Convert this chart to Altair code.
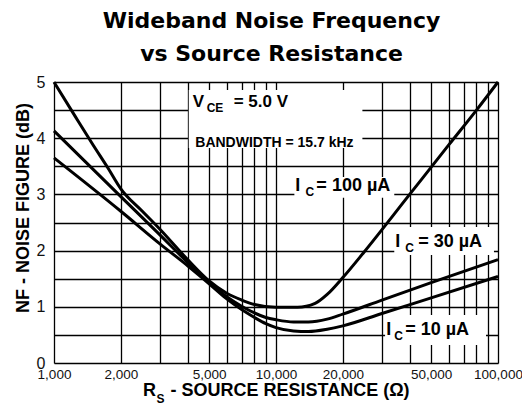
import altair as alt
import pandas as pd

# ---- data ----
r_100 = [1000, 1250, 1500, 1750, 2000, 2500, 3000, 4000, 5000, 6000, 7000, 8000,
         10000, 12500, 15000, 17000, 20000, 25000, 40000, 60000, 80000, 100000]
nf_100 = [5.0, 4.38, 3.88, 3.47, 3.10, 2.70, 2.38, 1.84, 1.46, 1.24, 1.12, 1.04,
          0.99, 0.99, 1.06, 1.22, 1.52, 1.98, 3.0, 3.88, 4.5, 5.0]

r_30 = [1000, 2000, 3000, 4000, 5000, 6000, 7000, 8000, 9000, 10000, 12000, 14000,
        17000, 20000, 30000, 50000, 100000]
nf_30 = [4.13, 2.96, 2.28, 1.79, 1.43, 1.18, 1.01, 0.89, 0.81, 0.77, 0.73, 0.73,
         0.78, 0.87, 1.12, 1.43, 1.84]

r_10 = [1000, 2000, 3000, 4000, 5000, 6000, 7000, 8000, 9000, 10000, 12000, 14000,
        17000, 20000, 30000, 50000, 100000]
nf_10 = [3.65, 2.70, 2.12, 1.73, 1.41, 1.14, 0.95, 0.81, 0.70, 0.63, 0.57, 0.56,
         0.60, 0.66, 0.88, 1.16, 1.54]

x_grid = [1000, 2000, 3000, 4000, 5000, 6000, 7000, 8000, 9000,
          10000, 20000, 30000, 40000, 50000, 60000, 70000, 80000, 90000, 100000]
x_labels = [1000, 2000, 5000, 10000, 20000, 50000, 100000]
y_grid = [0, 0.5, 1, 1.5, 2, 2.5, 3, 3.5, 4, 4.5, 5]

title_lines = ["Wideband Noise Frequency", "vs Source Resistance"]

FONT = "Liberation Sans"

curves = pd.concat([
    pd.DataFrame({"R": r_100, "NF": nf_100, "s": "100"}),
    pd.DataFrame({"R": r_30, "NF": nf_30, "s": "30"}),
    pd.DataFrame({"R": r_10, "NF": nf_10, "s": "10"}),
])

# annotation boxes (data coordinates)
boxes = pd.DataFrame({
    "x": [4045, 12100, 34100, 31000],
    "x2": [24500, 34100, 95900, 88300],
    "y": [4.858, 3.31, 2.42, 0.854],
    "y2": [3.826, 2.94, 1.92, 0.320],
})

ann = pd.DataFrame({
    "t": ["V", "CE", "= 5.0 V",
          "I", "C", "= 100 \u00b5A",
          "I", "C", "= 30 \u00b5A",
          "I", "C", "= 10 \u00b5A"],
    "R": [4215, 4870, 6450,
          12200, 13570, 15200,
          34440, 38200, 43700,
          31380, 34080, 38200],
    "NF": [4.555, 4.466, 4.555,
           3.06, 2.97, 3.06,
           2.064, 1.975, 2.064,
           0.498, 0.409, 0.498],
    "fs": [17, 12, 17,
           18, 12, 18,
           18, 12, 18,
           18, 12, 18],
})
bw = pd.DataFrame({"t": ["BANDWIDTH = 15.7 kHz"], "R": [9840], "NF": [3.843]})

xs = alt.Scale(type="log", domain=[1000, 100000], nice=False)
ys = alt.Scale(domain=[0, 5], nice=False)

label_expr_x = "indexof(" + str(x_labels) + ", datum.value) >= 0 ? format(datum.value, ',') : ''"

x_axis = alt.Axis(values=x_grid, labelExpr=label_expr_x, grid=True, gridColor="black",
                  gridWidth=1.3, gridOpacity=1, domain=False, ticks=False, tickSize=0,
                  labelFont=FONT, labelFontSize=13.5, labelColor="#111", labelPadding=4,
                  labelFlush=False, title=None, labelOverlap=False)
y_axis = alt.Axis(values=y_grid,
                  labelExpr="datum.value % 1 == 0 ? format(datum.value, 'd') : ''",
                  grid=True, gridColor="black", gridWidth=1.3, gridOpacity=1,
                  domain=False, ticks=False, tickSize=0, labelFlush=False,
                  labelFont=FONT, labelFontSize=16, labelColor="#111", labelPadding=9,
                  title="NF - NOISE FIGURE (dB)", titleFont=FONT, titleFontSize=18,
                  titleFontWeight="bold", titleColor="black", titleAngle=270,
                  titleX=-26, titleY=125.5, titleAlign="center", titleBaseline="alphabetic")

base_x = alt.X("R:Q", scale=xs, axis=x_axis)
base_y = alt.Y("NF:Q", scale=ys, axis=y_axis)

box_layer = alt.Chart(boxes).mark_rect(fill="white", strokeWidth=0).encode(
    x=alt.X("x:Q", scale=xs, axis=x_axis), x2="x2:Q",
    y=alt.Y("y:Q", scale=ys, axis=y_axis), y2="y2:Q")

line_layer = alt.Chart(curves).mark_line(color="black", strokeWidth=3,
                                          interpolate="monotone").encode(
    x=base_x, y=base_y, detail="s:N")

ann_layer = alt.Chart(ann).mark_text(font=FONT, fontWeight="bold", color="black",
                                      align="left", baseline="alphabetic").encode(
    x=base_x, y=base_y, text="t:N", size=alt.Size("fs:Q", scale=None, legend=None))

bw_layer = alt.Chart(bw).mark_text(font=FONT, fontWeight="bold", color="black",
                                    align="center", baseline="alphabetic",
                                    fontSize=14).encode(x=base_x, y=base_y, text="t:N")

def free_text(txt, px, py, fs, font=FONT, align="left"):
    return alt.Chart(pd.DataFrame({"t": [txt]})).mark_text(
        font=font, fontWeight="bold", color="black", align=align,
        baseline="alphabetic", fontSize=fs).encode(
        text="t:N", x=alt.value(px), y=alt.value(py))

xt1 = free_text("R", 89, 314, 18)
xt2 = free_text("S", 102.5, 321, 12)
xt3 = free_text("- SOURCE RESISTANCE (\u03a9)", 116.5, 314, 18)
t1 = free_text(title_lines[0], 217.5, -54, 22, font="DejaVu Sans", align="center")
t2 = free_text(title_lines[1], 217.5, -21, 22, font="DejaVu Sans", align="center")

chart = alt.layer(box_layer, line_layer, ann_layer, bw_layer, xt1, xt2, xt3, t1, t2).properties(
    width=444, height=281, autosize="none",
    padding={"left": 46, "top": 74, "right": 24, "bottom": 43},
).configure_view(stroke="black", strokeWidth=2.5).configure(background="white")

chart.save("out.html", embed_options={"renderer": "svg", "actions": False})
